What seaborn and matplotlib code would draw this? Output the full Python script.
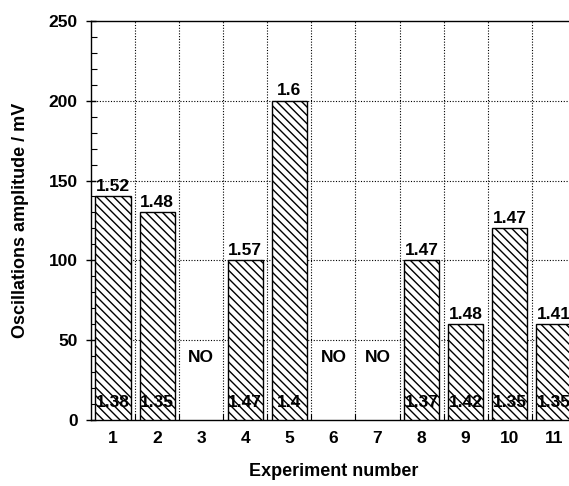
import matplotlib
matplotlib.use("Agg")
import matplotlib.pyplot as plt
import seaborn as sns
import pandas as pd
from matplotlib.ticker import MultipleLocator

experiments = [1, 2, 3, 4, 5, 6, 7, 8, 9, 10, 11]
amplitude = [140, 130, 0, 100, 200, 0, 0, 100, 60, 120, 60]
top_labels = ["1.52", "1.48", "", "1.57", "1.6", "", "", "1.47", "1.48", "1.47", "1.41"]
bottom_labels = ["1.38", "1.35", "", "1.47", "1.4", "", "", "1.37", "1.42", "1.35", "1.35"]
no_experiments = [3, 6, 7]

sns.set_theme(style="white")
plt.rcParams['font.family'] = ['Liberation Sans', 'DejaVu Sans']
plt.rcParams['hatch.linewidth'] = 1.0
plt.rcParams['text.color'] = 'black'
plt.rcParams['axes.labelcolor'] = 'black'
plt.rcParams['xtick.color'] = 'black'
plt.rcParams['ytick.color'] = 'black'

df = pd.DataFrame({"exp": experiments, "amp": amplitude})
df_bars = df[df["amp"] > 0]

fig = plt.figure(figsize=(5.69, 4.86), dpi=100)
ax = fig.add_axes([0.16, 0.136, 0.852, 0.821])

sns.barplot(data=df_bars, x="exp", y="amp", native_scale=True, width=0.8,
            color="white", edgecolor="black", linewidth=1.0, ax=ax, zorder=3)
for p in ax.patches:
    p.set_hatch("\\\\\\\\")
    p.set_facecolor("white")
    p.set_edgecolor("black")

FS = 12.5
for e, a, tl, bl in zip(experiments, amplitude, top_labels, bottom_labels):
    if a > 0:
        ax.text(e, a + 1.5, tl, ha="center", va="bottom", fontsize=FS,
                fontweight="bold", color="black", zorder=5)
        ax.text(e, 11, bl, ha="center", va="center", fontsize=FS,
                fontweight="bold", color="black", zorder=5)
for e in no_experiments:
    ax.text(e, 39, "NO", ha="center", va="center", fontsize=FS,
            fontweight="bold", color="black", zorder=5)

ax.set_xlim(0.5, 11.5)
ax.set_ylim(0, 250)
ax.set_xticks(experiments)
ax.set_xticklabels([str(e) for e in experiments])
ax.set_xticks([x + 0.5 for x in experiments[:-1]], minor=True)
ax.yaxis.set_major_locator(MultipleLocator(50))
ax.yaxis.set_minor_locator(MultipleLocator(10))

ax.grid(False)
for x in [x + 0.5 for x in experiments[:-1]]:
    ax.axvline(x, color="black", linestyle=(0, (1, 1.5)), linewidth=0.8, zorder=1)
for y in [50, 100, 150, 200]:
    ax.axhline(y, color="black", linestyle=(0, (1, 1.5)), linewidth=0.8, zorder=1)

for s in ax.spines.values():
    s.set_color("black")
    s.set_linewidth(1.0)

ax.tick_params(axis="y", which="major", direction="inout", length=7, width=1,
               labelsize=FS, colors="black", left=True, pad=6)
ax.tick_params(axis="y", which="minor", direction="in", length=4, width=0.8,
               colors="black", left=True)
ax.tick_params(axis="x", which="major", direction="in", length=0, labelsize=FS,
               colors="black", pad=8, bottom=True)
ax.tick_params(axis="x", which="minor", direction="in", length=4, width=0.8,
               colors="black", bottom=True)
for lbl in ax.get_xticklabels() + ax.get_yticklabels():
    lbl.set_fontweight("bold")

ax.set_xlabel("Experiment number", fontsize=13, fontweight="bold",
              color="black", labelpad=12)
ax.set_ylabel("Oscillations amplitude / mV", fontsize=13, fontweight="bold",
              color="black", labelpad=14)

fig.savefig("out.png", dpi=100)
